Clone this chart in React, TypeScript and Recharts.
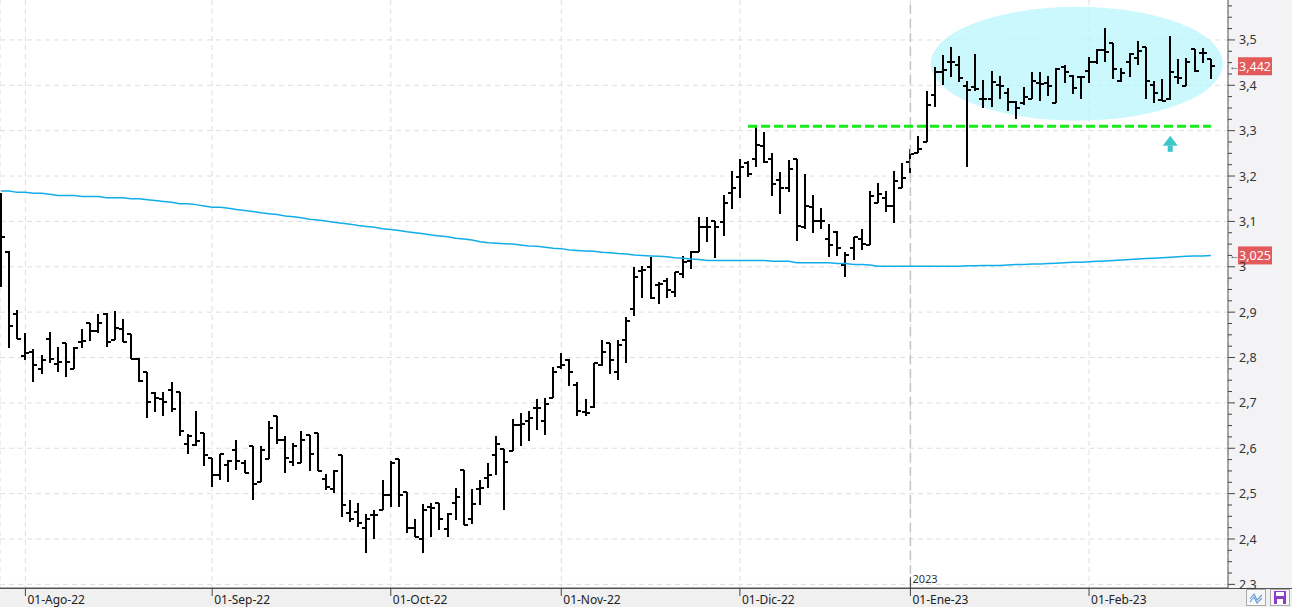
import React from "react";
import {
  Bar,
  CartesianGrid,
  ComposedChart,
  Line,
  ReferenceArea,
  ReferenceDot,
  ReferenceLine,
  XAxis,
  YAxis,
} from "recharts";

const FONT = "'Noto Sans', 'Open Sans', sans-serif";

// trading days: weekdays from first to last bar, minus market holidays
const firstDay = "2022-07-27";
const lastDay = "2023-02-22";
const holidays = ["2022-12-26"];
const padDates = ["2023-02-23"];

function tradingDays(start: string, end: string, closed: string[]) {
  const out: string[] = [];
  const d = new Date(start + "T00:00:00Z");
  const stop = new Date(end + "T00:00:00Z");
  while (d <= stop) {
    const wd = d.getUTCDay();
    const s = d.toISOString().slice(0, 10);
    if (wd !== 0 && wd !== 6 && !closed.includes(s)) out.push(s);
    d.setUTCDate(d.getUTCDate() + 1);
  }
  return out;
}
const dates = tradingDays(firstDay, lastDay, holidays);

const monthTickDates = ["2022-08-01", "2022-09-01", "2022-10-03", "2022-11-01", "2022-12-01", "2023-01-02", "2023-02-01"];
const monthTickLabels = ["01-Ago-22", "01-Sep-22", "01-Oct-22", "01-Nov-22", "01-Dic-22", "01-Ene-23", "01-Feb-23"];
const yearStart = "2023-01-02";

const yMajorTicks = [2.3, 2.4, 2.5, 2.6, 2.7, 2.8, 2.9, 3.0, 3.1, 3.2, 3.3, 3.4, 3.5];

const opens = [
  3.126, 3.033, 2.897, 2.804, 2.813, 2.775, 2.841, 2.786, 2.833, 2.775,
  2.835, 2.877, 2.859, 2.897, 2.839, 2.863, 2.852, 2.797, 2.769, 2.722,
  2.709, 2.729, 2.725, 2.61, 2.608, 2.634, 2.579, 2.542, 2.564, 2.597,
  2.568, 2.604, 2.526, 2.577, 2.672, 2.619, 2.57, 2.568, 2.63, 2.634,
  2.533, 2.511, 2.586, 2.458, 2.46, 2.425, 2.452, 2.465, 2.498, 2.577,
  2.504, 2.425, 2.399, 2.471, 2.48, 2.421, 2.48, 2.551, 2.443, 2.511,
  2.535, 2.586, 2.599, 2.595, 2.652, 2.659, 2.689, 2.661, 2.711, 2.78,
  2.795, 2.74, 2.681, 2.692, 2.784, 2.833, 2.767, 2.839, 2.907, 2.991,
  3.0, 2.96, 2.969, 2.945, 2.985, 3.013, 3.033, 3.088, 3.101, 3.099,
  3.163, 3.198, 3.229, 3.238, 3.267, 3.238, 3.192, 3.174, 3.238, 3.088,
  3.132, 3.101, 3.062, 3.077, 3.004, 3.042, 3.062, 3.048, 3.141, 3.152,
  3.134, 3.174, 3.231, 3.251, 3.275, 3.379, 3.43, 3.452, 3.445, 3.399,
  3.396, 3.37, 3.37, 3.401, 3.383, 3.363, 3.361, 3.37, 3.405, 3.405,
  3.361, 3.441, 3.421, 3.419, 3.432, 3.452, 3.478, 3.493, 3.41, 3.452,
  3.46, 3.485, 3.401, 3.368, 3.37, 3.419, 3.399, 3.48, 3.471, 3.458,
];

const highs = [
  3.163, 3.035, 2.905, 2.855, 2.819, 2.806, 2.857, 2.824, 2.833, 2.824,
  2.863, 2.877, 2.897, 2.899, 2.903, 2.885, 2.852, 2.8, 2.769, 2.725,
  2.725, 2.747, 2.725, 2.632, 2.683, 2.634, 2.579, 2.588, 2.575, 2.619,
  2.575, 2.604, 2.604, 2.661, 2.672, 2.626, 2.612, 2.639, 2.63, 2.634,
  2.544, 2.551, 2.586, 2.487, 2.48, 2.454, 2.463, 2.531, 2.573, 2.577,
  2.504, 2.443, 2.478, 2.48, 2.48, 2.458, 2.513, 2.551, 2.511, 2.531,
  2.568, 2.628, 2.599, 2.665, 2.678, 2.683, 2.709, 2.711, 2.778, 2.811,
  2.797, 2.747, 2.709, 2.789, 2.839, 2.833, 2.839, 2.89, 3.0, 3.002,
  3.022, 2.967, 2.976, 2.989, 3.024, 3.035, 3.11, 3.11, 3.101, 3.159,
  3.211, 3.238, 3.233, 3.308, 3.297, 3.251, 3.209, 3.236, 3.238, 3.205,
  3.159, 3.13, 3.095, 3.079, 3.033, 3.066, 3.084, 3.167, 3.185, 3.167,
  3.211, 3.229, 3.26, 3.289, 3.388, 3.441, 3.467, 3.485, 3.465, 3.41,
  3.469, 3.412, 3.432, 3.421, 3.394, 3.366, 3.396, 3.43, 3.43, 3.421,
  3.438, 3.445, 3.423, 3.421, 3.463, 3.48, 3.526, 3.493, 3.438, 3.471,
  3.498, 3.485, 3.41, 3.414, 3.509, 3.458, 3.46, 3.48, 3.482, 3.458,
];

const lows = [
  2.956, 2.822, 2.841, 2.795, 2.747, 2.764, 2.789, 2.767, 2.758, 2.775,
  2.822, 2.837, 2.855, 2.824, 2.839, 2.835, 2.797, 2.747, 2.667, 2.681,
  2.67, 2.681, 2.626, 2.588, 2.606, 2.56, 2.515, 2.531, 2.526, 2.553,
  2.546, 2.485, 2.526, 2.577, 2.61, 2.546, 2.56, 2.568, 2.549, 2.549,
  2.507, 2.502, 2.449, 2.438, 2.427, 2.37, 2.399, 2.465, 2.471, 2.471,
  2.414, 2.405, 2.37, 2.405, 2.419, 2.405, 2.441, 2.43, 2.434, 2.474,
  2.513, 2.54, 2.463, 2.595, 2.604, 2.615, 2.641, 2.63, 2.711, 2.775,
  2.738, 2.67, 2.672, 2.689, 2.782, 2.764, 2.751, 2.789, 2.892, 2.932,
  2.93, 2.919, 2.932, 2.934, 2.976, 2.996, 3.033, 3.055, 3.02, 3.068,
  3.128, 3.152, 3.198, 3.22, 3.229, 3.156, 3.117, 3.165, 3.057, 3.084,
  3.075, 3.084, 3.022, 3.024, 2.978, 3.015, 3.037, 3.048, 3.141, 3.121,
  3.097, 3.174, 3.207, 3.251, 3.275, 3.352, 3.401, 3.419, 3.407, 3.22,
  3.388, 3.35, 3.352, 3.37, 3.344, 3.326, 3.357, 3.37, 3.366, 3.377,
  3.361, 3.405, 3.381, 3.37, 3.405, 3.447, 3.452, 3.414, 3.407, 3.419,
  3.445, 3.37, 3.361, 3.366, 3.368, 3.403, 3.399, 3.43, 3.449, 3.414,
];

const closes = [
  3.066, 2.87, 2.841, 2.811, 2.784, 2.795, 2.797, 2.791, 2.791, 2.822,
  2.837, 2.859, 2.877, 2.835, 2.866, 2.835, 2.797, 2.749, 2.703, 2.711,
  2.703, 2.687, 2.637, 2.626, 2.617, 2.586, 2.542, 2.588, 2.573, 2.573,
  2.546, 2.522, 2.597, 2.645, 2.619, 2.579, 2.604, 2.619, 2.588, 2.549,
  2.515, 2.549, 2.476, 2.443, 2.436, 2.445, 2.452, 2.498, 2.568, 2.498,
  2.425, 2.405, 2.465, 2.469, 2.443, 2.454, 2.493, 2.43, 2.478, 2.513,
  2.542, 2.61, 2.57, 2.652, 2.654, 2.667, 2.689, 2.698, 2.767, 2.784,
  2.767, 2.683, 2.678, 2.789, 2.813, 2.795, 2.828, 2.881, 2.978, 2.993,
  2.932, 2.963, 2.949, 2.989, 3.011, 3.033, 3.088, 3.088, 3.088, 3.141,
  3.174, 3.22, 3.205, 3.269, 3.231, 3.183, 3.174, 3.216, 3.09, 3.134,
  3.101, 3.101, 3.048, 3.042, 3.026, 3.066, 3.051, 3.156, 3.161, 3.134,
  3.189, 3.196, 3.249, 3.26, 3.357, 3.43, 3.434, 3.452, 3.416, 3.39,
  3.392, 3.37, 3.407, 3.399, 3.363, 3.35, 3.374, 3.41, 3.403, 3.399,
  3.436, 3.43, 3.394, 3.419, 3.452, 3.478, 3.474, 3.436, 3.427, 3.469,
  3.476, 3.41, 3.383, 3.366, 3.43, 3.416, 3.452, 3.432, 3.471, 3.442,
];

// long moving average (blue)
const ma200 = [
  3.167, 3.167, 3.164, 3.164, 3.162, 3.162, 3.16, 3.157, 3.157, 3.157,
  3.155, 3.155, 3.155, 3.152, 3.152, 3.152, 3.15, 3.15, 3.148, 3.146,
  3.144, 3.142, 3.139, 3.139, 3.137, 3.134, 3.131, 3.131, 3.129, 3.126,
  3.124, 3.122, 3.119, 3.117, 3.115, 3.112, 3.11, 3.108, 3.105, 3.103,
  3.101, 3.098, 3.096, 3.094, 3.091, 3.089, 3.087, 3.084, 3.082, 3.08,
  3.077, 3.075, 3.073, 3.07, 3.068, 3.066, 3.063, 3.061, 3.059, 3.055,
  3.053, 3.052, 3.051, 3.05, 3.048, 3.046, 3.045, 3.043, 3.041, 3.04,
  3.037, 3.036, 3.035, 3.034, 3.032, 3.031, 3.029, 3.028, 3.026, 3.025,
  3.024, 3.023, 3.022, 3.02, 3.019, 3.017, 3.016, 3.014, 3.014, 3.014,
  3.014, 3.014, 3.014, 3.014, 3.014, 3.012, 3.012, 3.012, 3.009, 3.009,
  3.009, 3.009, 3.009, 3.007, 3.007, 3.005, 3.005, 3.004, 3.001, 3.001,
  3.001, 3.001, 3.001, 3.001, 3.001, 3.001, 3.001, 3.001, 3.001, 3.002,
  3.002, 3.003, 3.003, 3.003, 3.004, 3.005, 3.005, 3.006, 3.006, 3.007,
  3.008, 3.009, 3.01, 3.01, 3.011, 3.012, 3.013, 3.014, 3.015, 3.016,
  3.017, 3.018, 3.019, 3.02, 3.021, 3.022, 3.023, 3.024, 3.024, 3.025,
];

const resistanceLevel = 3.31;
const resistanceFrom = 92; // bar index
const zoneTop = 3.573;
const zoneBottom = 3.322;
const zoneFrom = 115;
const arrowBar = 144;
const arrowLevel = 3.271;

const rows = [
  ...dates.map((date, i) => ({
    date,
    open: opens[i],
    high: highs[i],
    low: lows[i],
    close: closes[i],
    range: [lows[i], highs[i]],
    ma: ma200[i],
  })),
  ...padDates.map((date) => ({ date })),
];

const yMinorTicks: number[] = [];
yMajorTicks.forEach((t) => {
  [0, 0.025, 0.05, 0.075].forEach((s) => {
    const v = Math.round((t + s) * 1000) / 1000;
    if (v <= 3.575) yMinorTicks.push(v);
  });
});

const fmt = (v: number, d = 1) => {
  const r = Math.round(v * Math.pow(10, d)) / Math.pow(10, d);
  return String(r).replace(".", ",");
};

const OhlcBar = (props: any) => {
  const { x, y, width, height, payload } = props;
  if (payload == null || payload.high == null) return null;
  const top = Math.min(y, y + height);
  const bottom = Math.max(y, y + height);
  const span = payload.high - payload.low;
  const toY = (v: number) =>
    Math.round(span === 0 ? top : top + ((payload.high - v) / span) * (bottom - top));
  const cx = Math.round(x + width / 2);
  const yo = toY(payload.open);
  const yc = toY(payload.close);
  return (
    <g stroke="#000" strokeWidth={2} shapeRendering="crispEdges">
      <line x1={cx} x2={cx} y1={Math.round(top)} y2={Math.round(bottom)} />
      <line x1={cx - 4} x2={cx} y1={yo} y2={yo} />
      <line x1={cx} x2={cx + 4} y1={yc} y2={yc} />
    </g>
  );
};

const PriceTick = (props: any) => {
  const { x, y, payload } = props;
  const v = payload.value;
  const major = yMajorTicks.some((t) => Math.abs(t - v) < 1e-6);
  return (
    <g>
      <line x1={x} x2={x + (major ? 7 : 4)} y1={y} y2={y} stroke="#444" />
      {major && (
        <text x={x + 11} y={y} dy={4.5} fontSize={12.5} fill="#333" fontFamily={FONT}>
          {fmt(v)}
        </text>
      )}
    </g>
  );
};

const DateTick = (props: any) => {
  const { x, y, payload } = props;
  const idx = monthTickDates.indexOf(payload.value);
  return (
    <g>
      <line x1={x} x2={x} y1={y} y2={y + 8} stroke="#444" />
      <text x={x + 2} y={y + 16} fontSize={12} fill="#222" fontFamily={FONT}>
        {monthTickLabels[idx]}
      </text>
    </g>
  );
};

const YearLabel = (props: any) => {
  const { viewBox } = props;
  const bottom = viewBox.y + viewBox.height;
  return (
    <g>
      <line x1={viewBox.x} x2={viewBox.x} y1={bottom - 11} y2={bottom} stroke="#444" />
      <text x={viewBox.x + 2} y={bottom - 5} fontSize={11} fill="#333" fontFamily={FONT}>
        2023
      </text>
    </g>
  );
};

const PriceBadge = (props: any) => {
  const { viewBox, text } = props;
  const right = viewBox.x + viewBox.width;
  const cy = viewBox.y;
  return (
    <g>
      <text x={right + 1} y={cy} dy={4} fontSize={11} fill="#555" fontFamily={FONT}>
        ←
      </text>
      <rect x={right + 10} y={cy - 9} width={34} height={18} fill="#e35a5a" />
      <text x={right + 27} y={cy} dy={4.5} textAnchor="middle" fontSize={12.5} fill="#fff" fontFamily={FONT}>
        {text}
      </text>
    </g>
  );
};

const ZoneEllipse = (props: any) => {
  const { x, y, width, height } = props;
  return (
    <ellipse
      cx={x + width / 2}
      cy={y + height / 2}
      rx={width / 2}
      ry={height / 2}
      fill="#b3f5fb"
      fillOpacity={0.7}
    />
  );
};

const UpArrow = (props: any) => {
  const { cx, cy } = props;
  return (
    <g fill="#3ec6c8">
      <polygon points={`${cx},${cy - 8} ${cx - 7.5},${cy + 2} ${cx + 7.5},${cy + 2}`} />
      <rect x={cx - 2.5} y={cy + 2} width={5} height={6} />
    </g>
  );
};

export default function App() {
  const lastClose = closes[closes.length - 1];
  const lastMa = ma200[ma200.length - 1];
  return (
    <div style={{ position: "absolute", left: 0, top: 0, width: 1292, height: 607, overflow: "hidden", background: "#fff" }}>
      <div style={{ position: "absolute", left: 1228, top: 0, width: 64, height: 607, background: "#f3f3f5" }} />
      <div style={{ position: "absolute", left: 0, top: 588, width: 1292, height: 19, background: "#f0f0f0", borderTop: "1px solid #555", boxSizing: "border-box" }} />
      <div style={{ position: "absolute", left: 0, top: 0 }}>
        <ComposedChart
          width={1292}
          height={607}
          data={rows}
          margin={{ top: 0, right: 0, bottom: 0, left: 0 }}
        >
          <CartesianGrid stroke="#dedede" strokeDasharray="5 4" horizontalValues={yMajorTicks} />
          <XAxis
            dataKey="date"
            type="category"
            ticks={monthTickDates}
            interval={0}
            height={19}
            padding={{ left: -3, right: 5 }}
            tickSize={0}
            tickMargin={0}
            tickLine={false}
            axisLine={{ stroke: "#555" }}
            tick={DateTick}
          />
          <YAxis
            orientation="right"
            type="number"
            width={64}
            domain={[2.292, 3.588]}
            allowDataOverflow
            ticks={yMinorTicks}
            interval={0}
            tickSize={0}
            tickMargin={0}
            tickLine={false}
            axisLine={{ stroke: "#555" }}
            tick={PriceTick}
          />
          <ReferenceArea
            x1={dates[zoneFrom]}
            x2={padDates[0]}
            y1={zoneBottom}
            y2={zoneTop}
            shape={ZoneEllipse}
          />
          <ReferenceLine
            x={yearStart}
            stroke="#c4c4c4"
            strokeWidth={1.5}
            strokeDasharray="9 5"
            label={(p: any) => <YearLabel {...p} />}
          />
          <Line
            type="linear"
            dataKey="ma"
            stroke="#12ade8"
            strokeWidth={1.5}
            strokeLinecap="butt"
            dot={false}
            activeDot={false}
            legendType="none"
            isAnimationActive={false}
          />
          <ReferenceLine
            segment={[
              { x: dates[resistanceFrom], y: resistanceLevel },
              { x: dates[dates.length - 1], y: resistanceLevel },
            ]}
            stroke="#17ea17"
            strokeWidth={3}
            strokeDasharray="9 4"
          />
          <Bar dataKey="range" barSize={6} shape={OhlcBar} isAnimationActive={false} />
          <ReferenceDot x={dates[arrowBar]} y={arrowLevel} r={0} shape={UpArrow} />
          <ReferenceLine
            y={lastClose}
            stroke="none"
            label={(p: any) => <PriceBadge {...p} text={fmt(lastClose, 3)} />}
          />
          <ReferenceLine
            y={lastMa}
            stroke="none"
            label={(p: any) => <PriceBadge {...p} text={fmt(lastMa, 3)} />}
          />
        </ComposedChart>
      </div>
      <div style={{ position: "absolute", left: 1246, top: 589, width: 20, height: 17, border: "1px solid #aaa", boxSizing: "border-box", background: "#f7f7f7" }}>
        <svg width={18} height={15}>
          <polyline points="3,9 7,4 10,10 15,5" fill="none" stroke="#6a9fd8" strokeWidth={1.2} />
          <polyline points="3,12 7,7 10,13 15,8" fill="none" stroke="#6a9fd8" strokeWidth={1.2} />
        </svg>
      </div>
      <div style={{ position: "absolute", left: 1270, top: 589, width: 20, height: 17, border: "1px solid #aaa", boxSizing: "border-box", background: "#f7f7f7" }}>
        <svg width={18} height={15}>
          <rect x={3} y={1} width={12} height={13} fill="#8a3fc0" />
          <rect x={5} y={2} width={8} height={4} fill="#fff" />
          <rect x={6} y={9} width={6} height={5} fill="#fff" />
        </svg>
      </div>
    </div>
  );
}
